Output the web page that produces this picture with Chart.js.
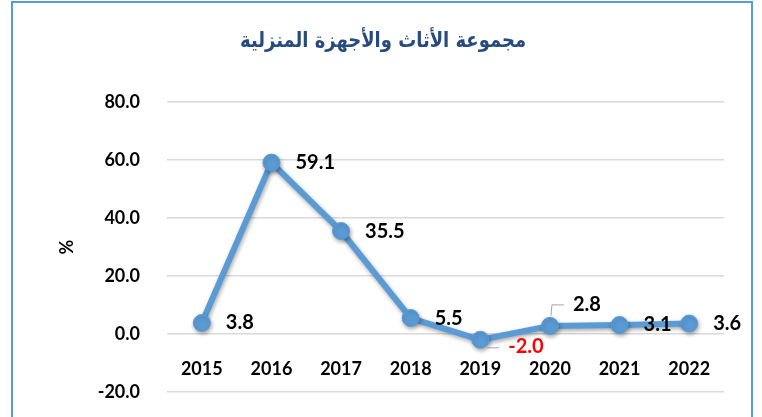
<!DOCTYPE html>
<html>
<head>
<meta charset="utf-8">
<script src="https://cdn.jsdelivr.net/npm/chart.js@4"></script>
<style>
  html, body { margin: 0; padding: 0; background: #ffffff; }
  #wrap { position: relative; width: 762px; height: 417px; overflow: hidden; }
  #frame { position: absolute; left: 11px; top: 1px; width: 742px; height: 440px; border: 2px solid #5b9bd5; box-sizing: border-box; }
  canvas { position: absolute; left: 0; top: 0; }
</style>
</head>
<body>
<div id="wrap">
  <div id="frame"></div>
  <canvas id="c" width="762" height="417"></canvas>
</div>
<script>
const titleText = 'مجموعة الأثاث والأجهزة المنزلية';
const categories = ['2015', '2016', '2017', '2018', '2019', '2020', '2021', '2022'];
const values = [3.8, 59.1, 35.5, 5.5, -2.0, 2.8, 3.1, 3.6];
const yTicks = [-20, 0, 20, 40, 60, 80];
const yAxisLabel = '%';

const FONT = 'Lato, "Open Sans", sans-serif';
const LINE_BLUE = '#5b9bd5';

// label placement per point index (styling only)
const labelStyle = {
  4: { dx: 28, dy: 7, color: '#ff0000', leader: [[6, 8], [19, 8]] },
  5: { dx: 23, dy: -21, color: '#000000', leader: [[1, -10], [2, -21], [14, -21]] }
};

const shadowPlugin = {
  id: 'shadow',
  beforeDatasetDraw(chart) {
    const ctx = chart.ctx;
    ctx.save();
    ctx.shadowColor = 'rgba(0,0,0,0.35)';
    ctx.shadowBlur = 4;
    ctx.shadowOffsetX = 1;
    ctx.shadowOffsetY = 2;
  },
  afterDatasetDraw(chart) {
    chart.ctx.restore();
  }
};

const titlePlugin = {
  id: 'customTitle',
  afterDraw(chart) {
    const ctx = chart.ctx;
    ctx.save();
    ctx.font = 'bold 21px "DejaVu Sans", sans-serif';
    ctx.fillStyle = '#284a7e';
    ctx.textAlign = 'center';
    ctx.textBaseline = 'middle';
    ctx.direction = 'rtl';
    ctx.fillText(titleText, 383, 42, 286);
    ctx.restore();
  }
};

const valueLabels = {
  id: 'valueLabels',
  afterDatasetsDraw(chart) {
    const ctx = chart.ctx;
    const meta = chart.getDatasetMeta(0);
    const data = chart.data.datasets[0].data;
    ctx.save();
    ctx.font = 'bold 20px ' + FONT;
    ctx.textBaseline = 'middle';
    ctx.textAlign = 'left';
    meta.data.forEach((pt, i) => {
      const st = labelStyle[i] || { dx: 24, dy: 0, color: '#000000' };
      if (st.leader) {
        ctx.strokeStyle = '#a6a6a6';
        ctx.lineWidth = 1;
        ctx.beginPath();
        st.leader.forEach((p, k) => {
          const px = pt.x + p[0], py = pt.y + p[1];
          if (k === 0) ctx.moveTo(px, py); else ctx.lineTo(px, py);
        });
        ctx.stroke();
      }
      ctx.fillStyle = st.color;
      ctx.fillText(data[i].toFixed(1), pt.x + st.dx, pt.y + st.dy);
    });
    ctx.restore();
  }
};

new Chart(document.getElementById('c'), {
  type: 'line',
  data: {
    labels: categories,
    datasets: [{
      data: values,
      borderColor: LINE_BLUE,
      backgroundColor: LINE_BLUE,
      borderWidth: 6,
      pointRadius: 8.5,
      pointBorderWidth: 1,
      pointBackgroundColor: LINE_BLUE,
      pointBorderColor: LINE_BLUE,
      tension: 0,
      clip: false
    }]
  },
  options: {
    responsive: false,
    animation: false,
    events: [],
    layout: { padding: { top: 102, left: 0, right: 38, bottom: 25 } },
    plugins: {
      legend: { display: false },
      tooltip: { enabled: false },
      title: { display: false }
    },
    scales: {
      x: {
        type: 'category',
        position: { y: 0 },
        offset: true,
        afterFit(scale) { scale.height = 0; },
        grid: { display: false, drawTicks: false },
        border: { display: false },
        ticks: {
          color: '#000000',
          padding: 24,
          maxRotation: 0,
          font: { family: FONT, size: 18, weight: 'bold' }
        }
      },
      y: {
        min: -20,
        max: 80,
        afterBuildTicks(scale) { scale.ticks = yTicks.map(v => ({ value: v })); },
        afterFit(scale) { scale.width = 167; scale.paddingTop = 0; scale.paddingBottom = 0; },
        grid: { color: '#d9d9d9', lineWidth: 1.5, drawTicks: false },
        border: { display: false },
        ticks: {
          color: '#000000',
          padding: 27,
          font: { family: FONT, size: 18, weight: 'bold' },
          callback: v => Number(v).toFixed(1)
        },
        title: {
          display: true,
          text: yAxisLabel,
          color: '#000000',
          font: { family: FONT, size: 18, weight: 'bold' },
          padding: { top: 56, bottom: 0 }
        }
      }
    }
  },
  plugins: [shadowPlugin, valueLabels, titlePlugin]
});
</script>
</body>
</html>
